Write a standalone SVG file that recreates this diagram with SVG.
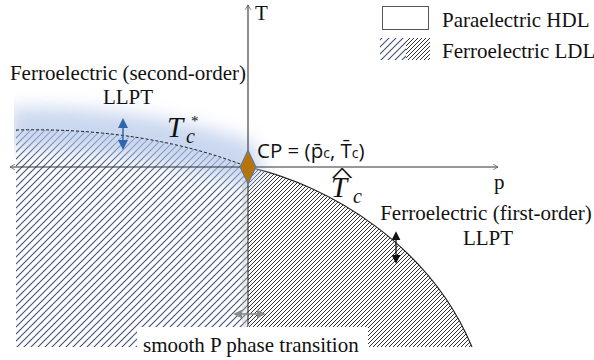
<svg xmlns="http://www.w3.org/2000/svg" width="594" height="360" viewBox="0 0 594 360">
<defs>
<pattern id="hb" patternUnits="userSpaceOnUse" width="7" height="7">
<path d="M0,7 L7,0 M-1,1 L1,-1 M6,8 L8,6" stroke="#3f5078" stroke-width="1.1" fill="none"/>
</pattern>
<pattern id="hk" patternUnits="userSpaceOnUse" width="4" height="4">
<path d="M0,4 L4,0 M-1,1 L1,-1 M3,5 L5,3" stroke="#1a1a1a" stroke-width="0.9" fill="none"/>
</pattern>
<filter id="blur" x="-20%" y="-50%" width="140%" height="200%"><feGaussianBlur stdDeviation="9"/></filter>
<clipPath id="gclip"><rect x="14" y="0" width="580" height="360"/></clipPath>
<marker id="open" viewBox="0 0 10 10" refX="9" refY="5" markerWidth="7" markerHeight="7" orient="auto-start-reverse" markerUnits="userSpaceOnUse">
<path d="M2,1 L9,5 L2,9" fill="none" stroke="#555" stroke-width="1"/>
</marker>
<marker id="triB" viewBox="0 0 10 10" refX="8" refY="5" markerWidth="10" markerHeight="10" orient="auto-start-reverse" markerUnits="userSpaceOnUse">
<path d="M0,0 L10,5 L0,10 Z" fill="#2e67ad"/>
</marker>
<marker id="triK" viewBox="0 0 10 10" refX="8" refY="5" markerWidth="9" markerHeight="9" orient="auto-start-reverse" markerUnits="userSpaceOnUse">
<path d="M0,0 L10,5 L0,10 Z" fill="#111"/>
</marker>
<marker id="triG" viewBox="0 0 10 10" refX="8" refY="5" markerWidth="9" markerHeight="9" orient="auto-start-reverse" markerUnits="userSpaceOnUse">
<path d="M0,0 L10,5 L0,10 Z" fill="#8a8a8a"/>
</marker>
</defs>
<style>
.axis{stroke:#333;stroke-width:1.1;fill:none}
.t{font-family:"Liberation Serif","Times New Roman",serif;fill:#111;font-size:21px}
</style>
<rect width="594" height="360" fill="#fff"/>

<g id="regions">
<path id="ldl-left" d="M16,130 C100,128 180,140 248,167 L248,347 L16,347 Z" fill="url(#hb)"/>
<path id="ldl-right" d="M248,167 C330,185 430,246 472,347 L248,347 Z" fill="url(#hk)"/>
<path id="hdl-boundary" d="M248,167 C330,185 430,246 472,347" fill="none" stroke="#222" stroke-width="1.1"/>
<rect x="242" y="180" width="6" height="147" fill="#bbb" opacity="0.3"/>
</g>

<g id="glow" clip-path="url(#gclip)">
<path d="M10,108 C100,106 180,118 252,142 L264,172 L250,188 C180,162 100,150 10,148 Z" fill="#b3c6e8" opacity="0.7" filter="url(#blur)"/>
</g>

<g id="label-box"><rect x="137" y="327" width="231" height="33" fill="#fff"/></g>

<g id="connectors">
<line class="axis" x1="248" y1="326" x2="248" y2="5" marker-end="url(#open)"/>
<line class="axis" x1="10" y1="167" x2="498" y2="167" marker-start="url(#open)" marker-end="url(#open)"/>
<path id="tc-star" d="M16,130 C100,128 180,140 248,167" fill="none" stroke="#222" stroke-width="1" stroke-dasharray="3,2"/>
<line x1="123" y1="120" x2="123" y2="148" stroke="#2e67ad" stroke-width="1.5" marker-start="url(#triB)" marker-end="url(#triB)"/>
<line x1="396" y1="233" x2="396" y2="262" stroke="#111" stroke-width="1.3" marker-start="url(#triK)" marker-end="url(#triK)"/>
<line x1="235" y1="314" x2="264" y2="314" stroke="#8a8a8a" stroke-width="1.5" marker-start="url(#triG)" marker-end="url(#triG)"/>
</g>

<g id="cp">
<path d="M248,150 L256,167 L248,184 L240,167 Z" fill="#b8730a" stroke="#4a78c0" stroke-width="1"/>
</g>

<g id="legend">
<rect x="382.5" y="6.5" width="46" height="23" fill="#fff" stroke="#555" stroke-width="1"/>
<rect x="380" y="38" width="26" height="22" fill="url(#hb)"/>
<rect x="406" y="38" width="24" height="22" fill="url(#hk)"/>
<text class="t" x="442" y="27">Paraelectric HDL</text>
<text class="t" x="442" y="58">Ferroelectric LDL</text>
</g>

<g id="labels">
<text class="t" x="255" y="20">T</text>
<text class="t" x="494" y="189">p</text>
<text class="t" x="128" y="80" text-anchor="middle">Ferroelectric (second-order)</text>
<text class="t" x="128" y="104" text-anchor="middle">LLPT</text>
<text class="t" x="486" y="220" text-anchor="middle">Ferroelectric (first-order)</text>
<text class="t" x="488" y="245" text-anchor="middle">LLPT</text>
<text class="t" x="143" y="352">smooth P phase transition</text>
<text class="t" font-style="italic" style="font-size:29px" x="167" y="137">T<tspan style="font-size:20px" x="186" y="143">c</tspan><tspan font-style="normal" style="font-size:15px" x="191" y="126">*</tspan></text>
<text class="t" font-style="italic" style="font-size:29px" x="331" y="197">T<tspan style="font-size:20px" x="353" y="203">c</tspan></text>
<text class="t" style="font-size:22px" text-anchor="middle" transform="translate(342,182) scale(2.1,1)">^</text>
</g>
<g id="cp-label">
<text font-family="Open Sans, Liberation Sans, sans-serif" font-size="20.5" fill="#111" x="257" y="158">CP = (p̄<tspan font-size="14">c</tspan>, T̄<tspan font-size="14">c</tspan>)</text>
</g>
</svg>
